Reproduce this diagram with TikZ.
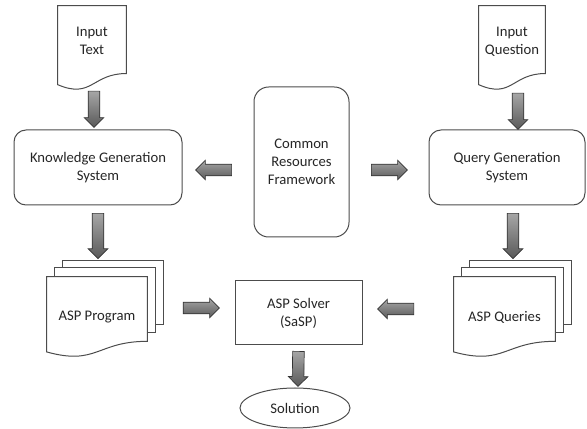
\documentclass[tikz,border=0pt]{standalone}
\usepackage{fontspec}
\setmainfont{Carlito}
\usetikzlibrary{shapes.geometric,shapes.arrows,calc,backgrounds}
\tikzset{
  line/.style={draw=black!70, line width=0.75pt},
  box/.style={line, rounded corners=9pt, align=center, inner sep=0pt},
  doc/.style={align=center, inner sep=0pt},
  fatarr/.style={single arrow, draw=black!80, line width=0.5pt, inner sep=4.1pt,
    single arrow head extend=3pt,
    top color=black!35, bottom color=black!65}
}
% document page with wavy bottom
\newcommand{\drawdoc}[1]{%
  \draw[line, fill=white] (#1.north west) -- (#1.north east)
    -- ($(#1.north east)!0.802!(#1.south east)$)
    .. controls ($(#1.north)!0.802!(#1.south)$) and ($(#1.north)!1.107!(#1.south)$)
    .. ($(#1.north west)!0.934!(#1.south west)$) -- cycle;}
% three stacked pages
\newcommand{\drawstack}[1]{%
  \draw[line, fill=white] ($(#1.north west)+(16,16)$) rectangle ($(#1.north east)+(16,-48)$);
  \draw[line, fill=white] ($(#1.north west)+(8,9)$) rectangle ($(#1.north east)+(8,-56)$);
  \drawdoc{#1}}
% block arrow from #1 to #2
\newcommand{\fatarrow}[2]{%
  \path let \p1=(#1), \p2=(#2), \n1={atan2(\y2-\y1,\x2-\x1)}, \n2={veclen(\x2-\x1,\y2-\y1)} in
    node[fatarr, rotate=\n1, minimum height=\n2] at ($(\p1)!0.5!(\p2)$) {};}
\begin{document}
\begin{tikzpicture}[x=0.75pt, y=0.75pt, font=\fontsize{11}{13.5}\selectfont, text=black!85]
  \useasboundingbox (0,0) rectangle (587,429);
  % inputs
  \node[doc, minimum width=51pt, minimum height=63pt, text depth=11pt] (intext) at (92,381) {Input\\Text};
  \node[doc, minimum width=49.5pt, minimum height=63pt, text depth=11pt] (inq) at (512,381) {Input\\Question};
  % systems
  \node[box, minimum width=126pt, minimum height=56.25pt] (kgs) at (98,261.5) {Knowledge Generation\\System};
  \node[box, minimum width=117pt, minimum height=56.25pt] (qgs) at (507,261.5) {Query Generation\\System};
  \node[box, rounded corners=11pt, minimum width=71.25pt, minimum height=112.5pt] (crf) at (301.5,267) {Common\\Resources\\Framework};
  % programs and solver
  \node[doc, minimum width=75pt, minimum height=60pt] (prog) at (97,112) {ASP Program};
  \node[doc, minimum width=75.75pt, minimum height=60pt] (qry) at (504.5,112) {ASP Queries};
  \node[line, align=center, inner sep=0pt, minimum width=95.25pt, minimum height=48pt] (solver) at (298.5,116) {ASP Solver\\(SaSP)};
  \node[line, ellipse, inner sep=0pt, minimum width=82.5pt, minimum height=30pt] (sol) at (295,21) {Solution};
  \begin{pgfonlayer}{background}
    \drawdoc{intext}
    \drawdoc{inq}
    \drawstack{prog}
    \drawstack{qry}
  \end{pgfonlayer}
  % arrows
  \fatarrow{$(intext.south)+(2,2)$}{$(kgs.north)+(-4,5)$}
  \fatarrow{$(inq.south)+(6,0)$}{$(qgs.north)+(11,3)$}
  \fatarrow{$(crf.west)+(-19,-8)$}{$(kgs.east)+(16,-2.5)$}
  \fatarrow{$(crf.east)+(19,-8)$}{$(qgs.west)+(-24,-2.5)$}
  \fatarrow{$(kgs.south)+(0,-5)$}{$(prog.north)+(1,21)$}
  \fatarrow{$(qgs.south)+(6,-5)$}{$(qry.north)+(8.5,21)$}
  \fatarrow{$(prog.east)+(33,9)$}{$(solver.west)+(-18,5)$}
  \fatarrow{$(qry.west)+(-37,8)$}{$(solver.east)+(18,4)$}
  \fatarrow{$(solver.south)+(0,-3)$}{$(sol.north)+(3,4)$}
\end{tikzpicture}
\end{document}
